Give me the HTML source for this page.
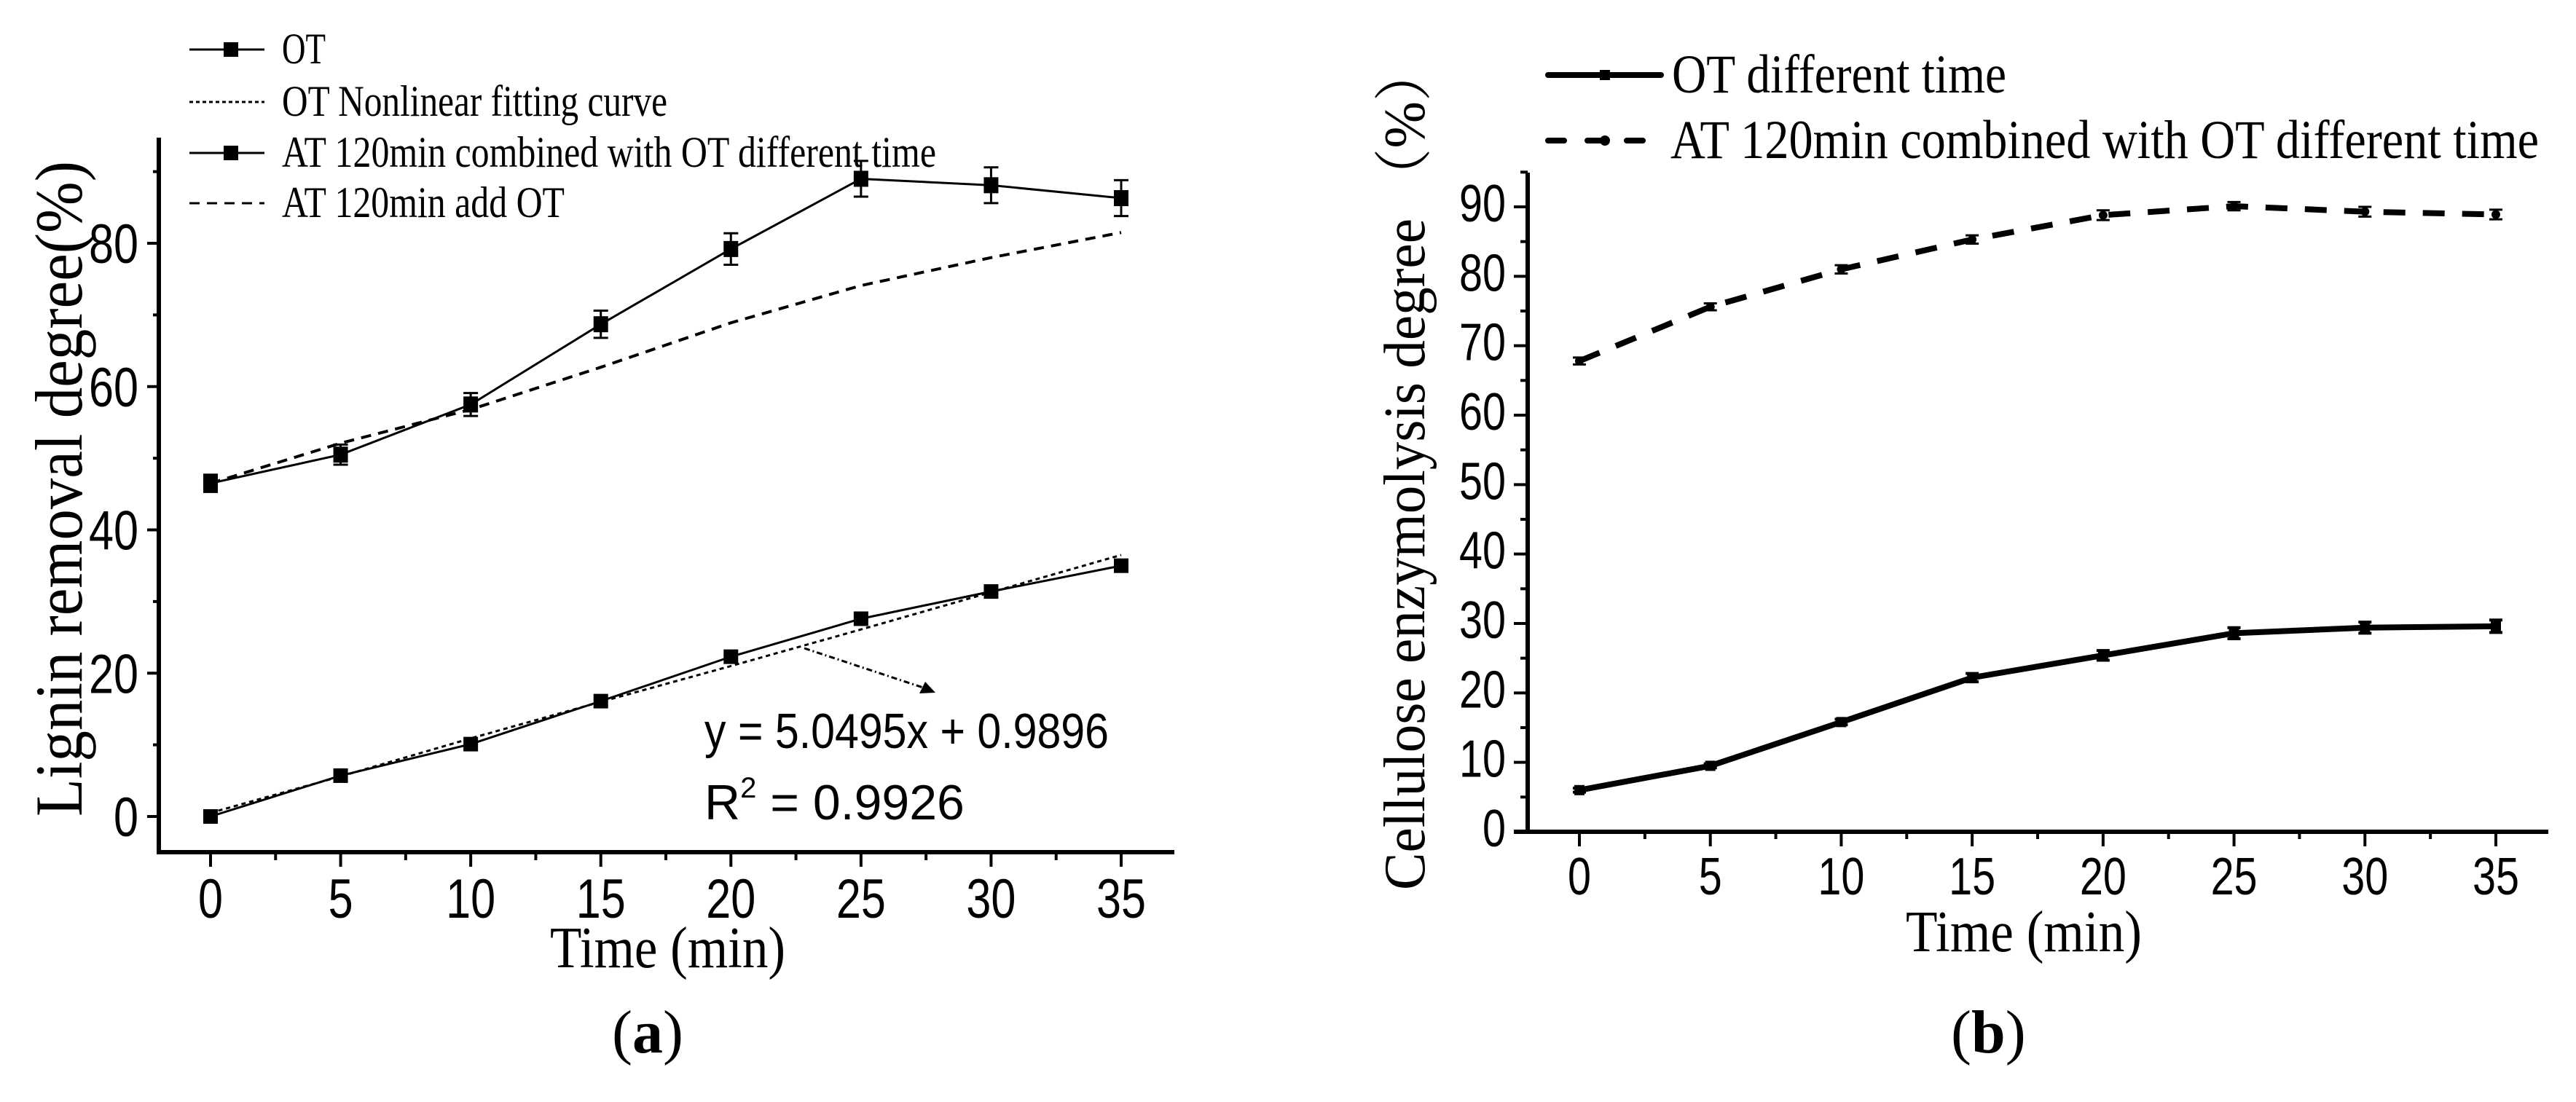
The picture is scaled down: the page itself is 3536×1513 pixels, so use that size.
<!DOCTYPE html>
<html><head><meta charset="utf-8"><style>
html,body{margin:0;padding:0;background:#fff;}
svg{display:block;}
text{fill:#000;}
</style></head><body>
<svg id="fig" width="3536" height="1513" viewBox="0 0 3536 1513" xmlns="http://www.w3.org/2000/svg">
<g id="panelA"></g>
<g id="panelB"></g>
</svg>
<script>
// ---- Panel (a) data ----
const timesA = [0,5,10,15,20,25,30,35];
const otLignin = [0,5.7,10.1,16.1,22.3,27.6,31.4,35.0];
const otLigninErr = [0.4,0.5,0.6,0.6,0.7,0.7,0.7,0.8];
const otFit = [0.5,5.6,10.9,16.0,21.0,26.1,31.3,36.5];
const atCombined = [46.5,50.5,57.5,68.7,79.2,89.0,88.1,86.3];
const atCombinedErr = [1.2,1.4,1.6,1.9,2.2,2.5,2.5,2.5];
const atAddOt = [46.5,52.1,56.8,62.7,68.9,74.1,78.0,81.5];
const yTicksA = [0,20,40,60,80];
const xTicks = [0,5,10,15,20,25,30,35];
// ---- Panel (b) data ----
const otCellulose = [6.0,9.5,15.8,22.2,25.4,28.6,29.4,29.6];
const otCelluloseErr = [0.3,0.3,0.4,0.6,0.7,0.8,0.8,0.9];
const atCellulose = [67.8,75.6,81.0,85.3,88.8,90.1,89.3,88.9];
const atCelluloseErr = [0.5,0.5,0.6,0.6,0.7,0.6,0.7,0.7];
const yTicksB = [0,10,20,30,40,50,60,70,80,90];

const NS='http://www.w3.org/2000/svg';
function mk(parent,tag,attrs,txt){const e=document.createElementNS(NS,tag);for(const k in attrs)e.setAttribute(k,attrs[k]);if(txt!==undefined)e.textContent=txt;parent.appendChild(e);return e;}
const TIMES='"Liberation Serif", serif';
const ARIAL='"Liberation Sans", sans-serif';

// ===== Panel A =====
const A=document.getElementById('panelA');
const ax=t=>289+t*(1539-289)/35;
const ay=v=>1121-v*(1121-334)/80;
let e=mk(A,'line',{x1:218,y1:189,x2:218,y2:1172,stroke:'#000','stroke-width':6});

e=mk(A,'line',{x1:215,y1:1170,x2:1612,y2:1170,stroke:'#000','stroke-width':6});

for(let v=0;v<=90;v+=10){const maj=v%20===0;const t=mk(A,'line',{x1:maj?202:210,y1:ay(v),x2:218,y2:ay(v),stroke:'#000','stroke-width':4});
}
yTicksA.forEach(v=>{const t=mk(A,'text',{x:190,y:ay(v)+27,'text-anchor':'end','font-family':ARIAL,'font-size':76,textLength:(String(v).length*34),lengthAdjust:'spacingAndGlyphs'},String(v));
});
for(let t=0;t<=35;t+=2.5){const maj=t%5===0;const l=mk(A,'line',{x1:ax(t),y1:1170,x2:ax(t),y2:maj?1190:1181,stroke:'#000','stroke-width':4});
}
xTicks.forEach(t=>{const l=mk(A,'text',{x:ax(t),y:1260,'text-anchor':'middle','font-family':ARIAL,'font-size':76,textLength:(String(t).length*34),lengthAdjust:'spacingAndGlyphs'},String(t));
});
e=mk(A,'text',{x:0,y:0,transform:'translate(112,1121) rotate(-90)','font-family':TIMES,'font-size':92,textLength:900,lengthAdjust:'spacingAndGlyphs'},'Lignin removal degree(%)');

e=mk(A,'text',{x:755,y:1328,'font-family':TIMES,'font-size':80,textLength:323,lengthAdjust:'spacingAndGlyphs'},'Time (min)');

e=mk(A,'text',{x:840,y:1445,'font-family':TIMES,'font-size':84},'(');

mk(e,'tspan',{'font-weight':'bold'},'a');mk(e,'tspan',{},')');
function pts(xs,ys,fx,fy){return xs.map((t,i)=>fx(t)+','+fy(ys[i])).join(' ');}
e=mk(A,'polyline',{points:pts(timesA,atAddOt,ax,ay),fill:'none',stroke:'#000','stroke-width':4,'stroke-dasharray':'14 10'});

e=mk(A,'polyline',{points:pts(timesA,otFit,ax,ay),fill:'none',stroke:'#000','stroke-width':3,'stroke-dasharray':'6 5'});

e=mk(A,'polyline',{points:pts(timesA,atCombined,ax,ay),fill:'none',stroke:'#000','stroke-width':3});

e=mk(A,'polyline',{points:pts(timesA,otLignin,ax,ay),fill:'none',stroke:'#000','stroke-width':3});

function errbar(P,x,y1,y2,w,sw,name){const g=mk(P,'path',{d:`M${x},${y1}V${y2}M${x-w},${y1}H${x+w}M${x-w},${y2}H${x+w}`,stroke:'#000','stroke-width':sw,fill:'none'});
}
timesA.forEach((t,i)=>{
 errbar(A,ax(t),ay(atCombined[i]+atCombinedErr[i]),ay(atCombined[i]-atCombinedErr[i]),10,3,'error-bar-at-combined');
 let m=mk(A,'rect',{x:ax(t)-10,y:ay(atCombined[i])-11,width:20,height:22,fill:'#000'});
 
 errbar(A,ax(t),ay(otLignin[i]+otLigninErr[i]),ay(otLignin[i]-otLigninErr[i]),8,3,'error-bar-ot');
 m=mk(A,'rect',{x:ax(t)-10,y:ay(otLignin[i])-10,width:20,height:20,fill:'#000'});
 
});
e=mk(A,'line',{x1:1104,y1:890,x2:1270,y2:945,stroke:'#000','stroke-width':3,'stroke-dasharray':'8 4 2 4'});

e=mk(A,'polygon',{points:'1284,951 1262,952 1270,936',fill:'#000'});

e=mk(A,'text',{x:967,y:1027,'font-family':ARIAL,'font-size':68,textLength:555,lengthAdjust:'spacingAndGlyphs'},'y = 5.0495x + 0.9896');

e=mk(A,'text',{x:967,y:1125,'font-family':ARIAL,'font-size':68},'R');

mk(e,'tspan',{dy:-30,'font-size':40},'2');mk(e,'tspan',{dy:30},' = 0.9926');
const legA=[['OT','solid',true,447],['OT Nonlinear fitting curve','dot',false,916],['AT 120min combined with OT different time','solid',true,1285],['AT 120min add OT','dash',false,775]];
const legRows=[68,140,210,279];
legA.forEach((L,i)=>{const y=legRows[i];
 const g=mk(A,'g',{});
 const da=L[1]==='dot'?'5 4':(L[1]==='dash'?'14 10':'none');
 mk(g,'line',{x1:260,y1:y,x2:363,y2:y,stroke:'#000','stroke-width':3,'stroke-dasharray':da});
 if(L[2])mk(g,'rect',{x:307,y:y-10,width:20,height:20,fill:'#000'});
 mk(g,'text',{x:387,y:y+19,'font-family':TIMES,'font-size':60,textLength:L[3]-387,lengthAdjust:'spacingAndGlyphs'},L[0]);
});

// ===== Panel B =====
const B=document.getElementById('panelB');
const bx=t=>2168+t*(3426-2168)/35;
const by=v=>1142-v*(1142-284)/90;
e=mk(B,'line',{x1:2097,y1:237,x2:2097,y2:1145,stroke:'#000','stroke-width':6});

e=mk(B,'line',{x1:2078,y1:1142,x2:3498,y2:1142,stroke:'#000','stroke-width':6});

for(let v=0;v<=95;v+=5){const maj=v%10===0;const t=mk(B,'line',{x1:maj?2078:2087,y1:by(v),x2:2097,y2:by(v),stroke:'#000','stroke-width':4});
}
yTicksB.forEach(v=>{const t=mk(B,'text',{x:2067,y:by(v)+20,'text-anchor':'end','font-family':ARIAL,'font-size':72,textLength:(String(v).length*32),lengthAdjust:'spacingAndGlyphs'},String(v));
});
for(let t=0;t<=35;t+=2.5){const maj=t%5===0;const l=mk(B,'line',{x1:bx(t),y1:1142,x2:bx(t),y2:maj?1162:1152,stroke:'#000','stroke-width':4});
}
xTicks.forEach(t=>{const l=mk(B,'text',{x:bx(t),y:1228,'text-anchor':'middle','font-family':ARIAL,'font-size':72,textLength:(String(t).length*32),lengthAdjust:'spacingAndGlyphs'},String(t));
});
e=mk(B,'text',{x:0,y:0,transform:'translate(1955,1222) rotate(-90)','font-family':'"Liberation Serif", "Noto Serif CJK SC", serif','font-size':80,textLength:1160,lengthAdjust:'spacingAndGlyphs'},'Cellulose enzymolysis degree （%）');

e=mk(B,'text',{x:2616,y:1306,'font-family':TIMES,'font-size':80,textLength:324,lengthAdjust:'spacingAndGlyphs'},'Time (min)');

e=mk(B,'text',{x:2678,y:1445,'font-family':TIMES,'font-size':84},'(');

mk(e,'tspan',{'font-weight':'bold'},'b');mk(e,'tspan',{},')');
e=mk(B,'polyline',{points:pts(timesA,atCellulose,bx,by),fill:'none',stroke:'#000','stroke-width':8,'stroke-dasharray':'30 24'});

e=mk(B,'polyline',{points:pts(timesA,otCellulose,bx,by),fill:'none',stroke:'#000','stroke-width':8});

timesA.forEach((t,i)=>{
 errbar(B,bx(t),by(atCellulose[i]+atCelluloseErr[i]),by(atCellulose[i]-atCelluloseErr[i]),9,3,'error-bar-at-cellulose');
 let m=mk(B,'circle',{cx:bx(t),cy:by(atCellulose[i]),r:6,fill:'#000'});
 
 errbar(B,bx(t),by(otCellulose[i]+otCelluloseErr[i]),by(otCellulose[i]-otCelluloseErr[i]),9,4,'error-bar-ot-cellulose');
 m=mk(B,'rect',{x:bx(t)-7,y:by(otCellulose[i])-7,width:14,height:14,fill:'#000'});
 
});
let g=mk(B,'g',{});
mk(g,'line',{x1:2125,y1:103,x2:2280,y2:103,stroke:'#000','stroke-width':8,'stroke-linecap':'round'});
mk(g,'rect',{x:2196,y:96,width:14,height:14,fill:'#000'});
mk(g,'text',{x:2295,y:127,'font-family':TIMES,'font-size':75,textLength:459,lengthAdjust:'spacingAndGlyphs'},'OT different time');
g=mk(B,'g',{});
mk(g,'line',{x1:2125,y1:193,x2:2280,y2:193,stroke:'#000','stroke-width':8,'stroke-linecap':'round','stroke-dasharray':'22 32'});
mk(g,'circle',{cx:2203,cy:193,r:7,fill:'#000'});
mk(g,'text',{x:2293,y:217,'font-family':TIMES,'font-size':75,textLength:1192,lengthAdjust:'spacingAndGlyphs'},'AT 120min combined with OT different time');
</script>
</body></html>
